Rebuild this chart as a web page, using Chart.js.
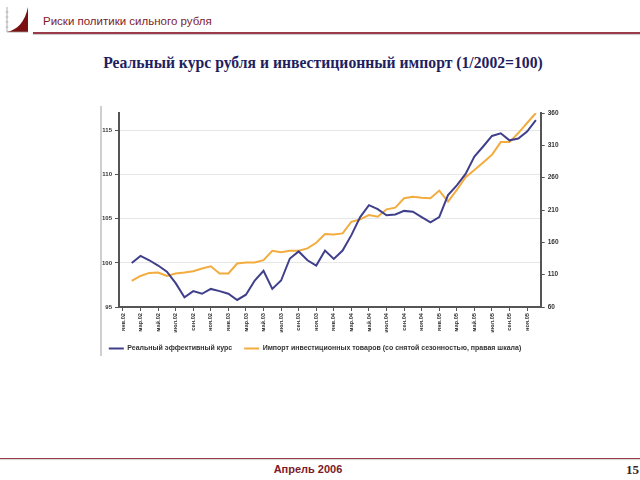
<!DOCTYPE html>
<html>
<head>
<meta charset="utf-8">
<script src="https://cdn.jsdelivr.net/npm/chart.js@4.4.1/dist/chart.umd.min.js"></script>
<style>
body { margin: 0; width: 640px; height: 480px; position: relative; overflow: hidden; background: #fff; font-family: Arial, "Liberation Sans", sans-serif; }
#logo { position: absolute; left: 3px; top: 4px; }
#head { position: absolute; left: 43px; top: 15px; font-size: 11.5px; color: #7d1b2b; white-space: nowrap; }
#headLine { position: absolute; left: 33px; top: 32px; width: 607px; height: 1.5px; background: #9b3a4a; box-shadow: 0 1px 1px #c8c8c8; }
#title { position: absolute; left: 0; top: 54px; width: 646px; text-align: center; font: bold 15.7px "Liberation Serif", "Times New Roman", serif; color: #1f1f5f; white-space: nowrap; }
#frame { position: absolute; left: 100px; top: 106px; width: 1.5px; height: 250px; background: #cfcfcf; }
#wrap { position: absolute; left: 70px; top: 100px; width: 490px; height: 262px; }
#footLine { position: absolute; left: 0; top: 457.5px; width: 640px; height: 1.5px; background: #9b3a4a; box-shadow: 0 1px 1px #d0d0d0; }
#date { position: absolute; left: 258px; width: 100px; top: 463px; text-align: center; font-size: 11px; font-weight: bold; color: #7a1a2a; }
#page { position: absolute; left: 626px; top: 462px; font: bold 13px "Liberation Serif", serif; color: #3a2222; }
</style>
</head>
<body>
<svg id="logo" width="26" height="30" viewBox="0 0 26 30">
  <line x1="4" y1="3" x2="4" y2="28" stroke="#9a9a9a" stroke-width="0.8"/>
  <line x1="2.5" y1="8" x2="5.5" y2="8" stroke="#9a9a9a" stroke-width="0.6"/>
  <line x1="2.5" y1="13" x2="5.5" y2="13" stroke="#9a9a9a" stroke-width="0.6"/>
  <line x1="2.5" y1="18" x2="5.5" y2="18" stroke="#9a9a9a" stroke-width="0.6"/>
  <line x1="2.5" y1="23" x2="5.5" y2="23" stroke="#9a9a9a" stroke-width="0.6"/>
  <path d="M4 28 C14 26 22 18 25 3 L25 28 Z" fill="#7a1010"/>
  <line x1="4" y1="28" x2="25" y2="28" stroke="#9a9a9a" stroke-width="0.8"/>
</svg>
<div id="head">Риски политики сильного рубля</div>
<div id="headLine"></div>
<div id="title">Реальный курс рубля и инвестиционный импорт (1/2002=100)</div>
<div id="frame"></div>
<div id="wrap"><canvas id="chart" width="490" height="262"></canvas></div>
<div id="footLine"></div>
<div id="date">Апрель 2006</div>
<div id="page">15</div>

<script>
// monthly data, фев.02 .. дек.05 (months counted from янв.02 = 0)
const xLabels = [
    'янв.02', 'мар.02', 'май.02', 'июл.02', 'сен.02', 'ноя.02',
    'янв.03', 'мар.03', 'май.03', 'июл.03', 'сен.03', 'ноя.03',
    'янв.04', 'мар.04', 'май.04', 'июл.04', 'сен.04', 'ноя.04',
    'янв.05', 'мар.05', 'май.05', 'июл.05', 'сен.05', 'ноя.05'
];
const firstMonth = 1;

const kursValues = [
    100.0, 100.8, 100.3, 99.7, 99.0, 97.7, 96.1, 96.8, 96.5, 97.05, 96.8, 96.5,
    95.8, 96.4, 98.0, 99.1, 97.05, 98.0, 100.5, 101.3, 100.3, 99.7, 101.4, 100.45,
    101.4, 103.15, 105.2, 106.55, 106.1, 105.4, 105.5, 105.9, 105.8, 105.2, 104.6, 105.2,
    107.7, 108.8, 110.1, 112.05, 113.2, 114.4, 114.7, 113.9, 114.1, 114.9, 116.2
];
const importValues = [
    100.3, 108, 112.7, 113.4, 108, 111.8, 113.4, 115.4, 119.6, 123, 111.8, 111.8,
    127.3, 128.9, 128.9, 132.4, 146.9, 144.8, 146.9, 146.9, 150.6, 159.3, 172.8, 172.3,
    173.8, 191.8, 195.5, 202.2, 199.6, 211, 213.6, 228.2, 230.6, 229, 228.2, 240,
    223, 241, 260.7, 272, 283.4, 295.3, 315, 315, 329, 344.5, 360
];

const leftTicks = [95, 100, 105, 110, 115];
const rightTicks = [60, 110, 160, 210, 260, 310, 360];

const seriesNames = [
    'Реальный эффективный курс',
    'Импорт инвестиционных товаров (со снятой сезонностью, правая шкала)'
];

const axisColor = '#555555';
const tickFont = { family: 'Arial, "Liberation Sans", sans-serif', weight: 'bold' };

const ctx = document.getElementById('chart').getContext('2d');
new Chart(ctx, {
    type: 'line',
    data: {
        datasets: [{
            label: seriesNames[0],
            data: kursValues.map((v, i) => ({ x: firstMonth + i, y: v })),
            yAxisID: 'yL',
            borderColor: '#3f3f8c',
            backgroundColor: '#3f3f8c',
            borderWidth: 2,
            pointRadius: 0,
            tension: 0
        }, {
            label: seriesNames[1],
            data: importValues.map((v, i) => ({ x: firstMonth + i, y: v })),
            yAxisID: 'yR',
            borderColor: '#f3ac3e',
            backgroundColor: '#f3ac3e',
            borderWidth: 2,
            pointRadius: 0,
            tension: 0
        }]
    },
    options: {
        responsive: false,
        animation: false,
        devicePixelRatio: 1,
        layout: { padding: { top: 13, left: 0, right: 0, bottom: 0 } },
        plugins: {
            tooltip: { enabled: false },
            legend: {
                position: 'bottom',
                labels: {
                    boxWidth: 15,
                    boxHeight: 2,
                    padding: 12,
                    color: '#333',
                    font: { ...tickFont, size: 7 },
                    generateLabels: chart => Chart.defaults.plugins.legend.labels.generateLabels(chart)
                        .map(l => ({ ...l, lineWidth: 0 }))
                }
            }
        },
        scales: {
            x: {
                type: 'linear',
                min: -0.45,
                max: 47.55,
                afterBuildTicks: s => { s.ticks = xLabels.map((l, i) => ({ value: i * 2 })); },
                afterFit: s => { s.height = 26; },
                ticks: {
                    autoSkip: false,
                    minRotation: 90,
                    maxRotation: 90,
                    padding: 2,
                    color: '#333',
                    font: { ...tickFont, size: 5.7 },
                    callback: (v, i) => xLabels[i]
                },
                grid: { drawOnChartArea: false, tickLength: 4, tickColor: axisColor },
                border: { color: axisColor, width: 2 }
            },
            yL: {
                position: 'left',
                min: 95,
                max: 117,
                afterBuildTicks: s => { s.ticks = leftTicks.map(v => ({ value: v })); },
                afterFit: s => { s.width = 49; },
                ticks: { padding: 3, color: '#333', font: { ...tickFont, size: 6 } },
                grid: { color: '#e6e6e6', tickColor: axisColor, tickLength: 4 },
                border: { color: axisColor, width: 2 }
            },
            yR: {
                position: 'right',
                min: 60,
                max: 360,
                afterBuildTicks: s => { s.ticks = rightTicks.map(v => ({ value: v })); },
                afterFit: s => { s.width = 19.3; },
                ticks: { padding: 3, color: '#333', font: { ...tickFont, size: 6.5 } },
                grid: { drawOnChartArea: false, tickColor: axisColor, tickLength: 4 },
                border: { color: axisColor, width: 2 }
            }
        }
    }
});
</script>
</body>
</html>
